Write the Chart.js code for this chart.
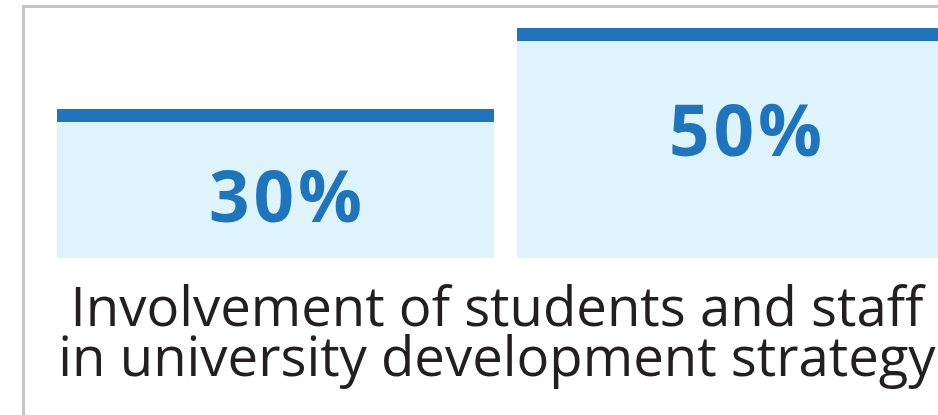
<!DOCTYPE html>
<html>
<head>
<meta charset="utf-8">
<script src="https://cdn.jsdelivr.net/npm/chart.js@4"></script>
<style>
  html, body { margin: 0; padding: 0; background: #fff; overflow: hidden; }
  #wrap { position: relative; width: 938px; height: 415px; overflow: hidden; }
  #card { position: absolute; left: 22px; top: 5px; right: -10px; bottom: -10px;
          border-left: 3px solid #c6c6c6; border-top: 3px solid #c6c6c6; }
  #box { position: absolute; left: 0; top: 0; width: 980px; height: 415px; }
</style>
</head>
<body>
<div id="wrap">
  <div id="card"></div>
  <div id="box"><canvas id="chart1"></canvas></div>
</div>
<script>
// data
const categories = ["Before", "After"];
const values = [30, 50];
const titleLines = ["Involvement of students and staff", "in university development strategy"];

// the bars in the picture do not start at zero
const yMin = -6.8;
const yMax = 50;

const capColor = "#1e74bd";
const fillColor = "#dff3fb";

// value labels inside the bars
const barLabels = {
  id: "barLabels",
  afterDatasetsDraw(chart) {
    const ctx = chart.ctx;
    const meta = chart.getDatasetMeta(0);
    ctx.save();
    ctx.font = "bold 71px 'Open Sans'";
    ctx.letterSpacing = "4px";
    ctx.fillStyle = capColor;
    ctx.textAlign = "center";
    ctx.textBaseline = "alphabetic";
    meta.data.forEach((bar, i) => {
      const h = bar.base - bar.y;
      ctx.fillText(values[i] + "%", bar.x + 12, bar.y + 0.185 * h + 85);
    });
    ctx.restore();
  }
};

new Chart(document.getElementById("chart1"), {
  type: "bar",
  data: {
    labels: categories,
    datasets: [{
      data: values,
      base: yMin,
      backgroundColor: fillColor,
      borderColor: capColor,
      borderWidth: { top: 13, left: 0, right: 0, bottom: 0 },
      borderSkipped: "bottom",
      barPercentage: 0.95,
      categoryPercentage: 1
    }]
  },
  options: {
    responsive: true,
    maintainAspectRatio: false,
    animation: false,
    layout: { padding: { top: 28, left: 28.5, right: 14.5, bottom: 3 } },
    plugins: {
      legend: { display: false },
      tooltip: { enabled: false },
      title: {
        display: true,
        position: "bottom",
        text: titleLines,
        color: "#231f20",
        font: { family: "'Open Sans'", size: 54.5, weight: "normal", lineHeight: 50 / 54.5 },
        padding: { top: 27, bottom: 27 }
      }
    },
    scales: {
      x: { display: false },
      y: {
        display: true,
        min: yMin,
        max: yMax,
        grid: { display: false },
        border: { display: false },
        ticks: { display: false },
        afterFit: s => { s.width = 17; }
      }
    }
  },
  plugins: [barLabels]
});
</script>
</body>
</html>
